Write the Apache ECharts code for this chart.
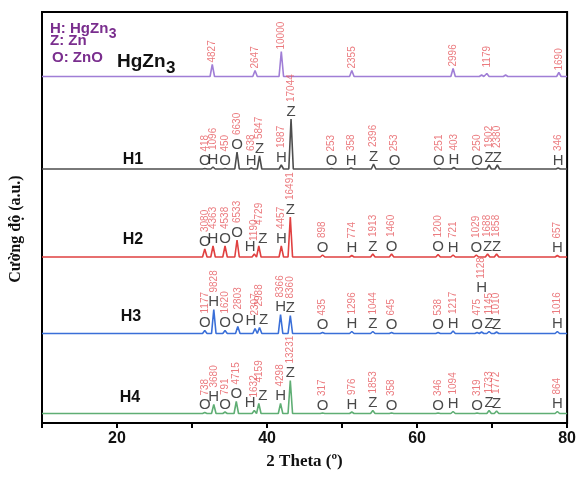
<!DOCTYPE html>
<html><head><meta charset="utf-8">
<script src="https://cdn.jsdelivr.net/npm/echarts@6/dist/echarts.min.js"></script>
<style>html,body{margin:0;padding:0;background:#fff}#c{width:579px;height:477px}</style>
</head><body><div id="c"></div>
<script>
// ---------- data ----------
const xTickLabels = [20, 40, 60, 80];

const hgzn3Pos    = [32.7, 38.4, 41.9, 51.3, 64.8, 68.6, 69.3, 71.8, 78.9];
const hgzn3Height = [12, 6, 25, 6, 8, 1.5, 3, 1.5, 4];
const hgzn3Counts = ['4827', '2647', '10000', '2355', '2996', '', '1179', '', '1690'];

const h1Pos    = [31.7, 32.8, 34.4, 36.0, 37.9, 39.0, 41.9, 43.2, 48.6, 51.2, 54.2, 57.0, 62.9, 64.9, 68.0, 69.6, 70.7, 78.8];
const h1Height = [0.5, 2, 0.5, 17, 1, 13, 4, 50, 0.5, 1, 5, 0.8, 0.8, 1.5, 0.8, 4, 4, 1];
const h1Phase  = ['O','H','O','O','H','Z','H','Z','O','H','Z','O','O','H','O','Z','Z','H'];
const h1Counts = ['418','1096','450','6630','638','5847','1987','17044','253','358','2396','253','251','403','250','1902','2380','346'];

const h2Pos    = [31.7, 32.8, 34.4, 36.0, 38.3, 38.9, 41.9, 43.1, 47.4, 51.3, 54.1, 56.6, 62.8, 64.8, 67.9, 69.4, 70.6, 78.7];
const h2Height = [8, 11, 11, 17, 3, 11, 11, 40, 2, 1.5, 3, 3, 2.5, 2, 2, 3, 3, 1.5];
const h2Phase  = ['O','H','O','O','H','Z','H','Z','O','H','Z','O','O','H','O','Z','Z','H'];
const h2Counts = ['3080','4363','4538','6533','1190','4729','4457','16491','898','774','1913','1460','1200','721','1029','1688','1858','657'];

const h3Pos    = [31.7, 32.9, 34.4, 36.1, 38.4, 39.0, 41.8, 43.1, 47.4, 51.3, 54.1, 56.6, 62.8, 64.8, 68.0, 68.6, 69.6, 70.6, 78.7];
const h3Height = [3, 24, 3, 7, 5, 6, 19, 18, 1, 2, 2, 1, 1, 2.5, 1, 1.5, 2, 1.5, 2];
const h3Phase  = ['O','H','O','O','H','Z','H','Z','O','H','Z','O','O','H','O','H','Z','Z','H'];
const h3Counts = ['1177','9828','1620','2803','2307','2988','8366','8360','435','1296','1044','645','538','1217','475','1128','1145','1010','1016'];

const h4Pos    = [31.7, 32.9, 34.4, 35.9, 38.3, 38.9, 41.8, 43.1, 47.4, 51.3, 54.1, 56.6, 62.8, 64.8, 68.0, 69.6, 70.6, 78.7];
const h4Height = [1, 9, 1.5, 12, 3, 10, 10, 33, 0.5, 1.5, 3, 0.5, 0.5, 2, 0.5, 3, 2.5, 2];
const h4Phase  = ['O','H','O','O','H','Z','H','Z','O','H','Z','O','O','H','O','Z','Z','H'];
const h4Counts = ['738','3680','791','4715','1632','4159','4298','13231','317','976','1853','358','346','1094','319','1733','1772','864'];

// ---------- layout / style ----------
const traces = [
  {name:'HgZn3', pos:hgzn3Pos, h:hgzn3Height, nums:hgzn3Counts, letters:null,   color:'#a07ed6', base:346.5, raised:[]},
  {name:'H1',    pos:h1Pos,    h:h1Height,    nums:h1Counts,    letters:h1Phase, color:'#4d4d4d', base:254,   raised:[]},
  {name:'H2',    pos:h2Pos,    h:h2Height,    nums:h2Counts,    letters:h2Phase, color:'#e04040', base:166,   raised:[]},
  {name:'H3',    pos:h3Pos,    h:h3Height,    nums:h3Counts,    letters:h3Phase, color:'#3a6fd8', base:89.5,  raised:[15]},
  {name:'H4',    pos:h4Pos,    h:h4Height,    nums:h4Counts,    letters:h4Phase, color:'#5fae74', base:9.5,   raised:[]}
];

function profile(t){
  const pts = [[10, t.base], [80, t.base]];
  t.pos.forEach((p, i) => { pts.push([p - 0.3, t.base], [p, t.base + t.h[i]], [p + 0.3, t.base]); });
  pts.sort((a, b) => a[0] - b[0]);
  return pts;
}
function labelItems(t){
  const L = [], N = [], numTop = [];
  const dx = t.pos.map(() => 0);
  for (let i = 0; i < t.pos.length - 1; i++) {
    if (t.pos[i+1] - t.pos[i] < 0.8 && !t.raised.includes(i+1)) { dx[i] -= 4; dx[i+1] += 4; }
  }
  t.pos.forEach((p, i) => {
    if (!t.nums[i]) { numTop.push(0); return; }
    let y = t.base + t.h[i];
    if (t.raised.includes(i)) y = numTop[i-1] + 3;
    let ny = y + 2;
    if (t.letters) {
      L.push({name: t.letters[i], value: [p, y], label: {offset: [dx[i], 0]}});
      ny = y + 17;
    }
    N.push({name: t.nums[i], value: [p, ny], label: {offset: [dx[i], 0]}});
    numTop.push(ny + t.nums[i].length * 5.6);
  });
  return {L, N};
}

const series = [];
traces.forEach(t => {
  series.push({type:'line', name:t.name, data:profile(t), symbol:'none', silent:true,
    lineStyle:{color:t.color, width:1.6}, z:2});
  const {L, N} = labelItems(t);
  if (L.length) series.push({type:'scatter', data:L, symbolSize:0, silent:true, z:5,
    label:{show:true, position:'top', distance:0, formatter:'{b}', color:'#1a1a1a',
      fontFamily:'Liberation Sans, Arial', fontSize:15}});
  series.push({type:'scatter', data:N, symbolSize:0, silent:true, z:5,
    label:{show:true, position:'top', distance:0, formatter:'{b}', rotate:90, align:'left',
      verticalAlign:'middle', color:'#e65a5f', fontFamily:'Liberation Sans, Arial', fontSize:10}});
});

// measure helper for subscripts
const mctx = document.createElement('canvas').getContext('2d');
function tw(text, font){ mctx.font = font; return mctx.measureText(text).width; }

const legFont = 'bold 15px "Liberation Sans"';
const legColor = '#7a2e8e';
const graphics = [];
function withSub(x, y, main, sub, font, subFont, color, subDy){
  graphics.push({type:'text', left:x, top:y, style:{text:main, font:font, fill:color}, silent:true});
  graphics.push({type:'text', left:x + tw(main, font) + 0.5, top:y + subDy, style:{text:sub, font:subFont, fill:color}, silent:true});
}
withSub(50, 21, 'H: HgZn', '3', legFont, 'bold 14px "Liberation Sans"', legColor, 6);
graphics.push({type:'text', left:50, top:33, style:{text:'Z: Zn', font:legFont, fill:legColor}, silent:true});
graphics.push({type:'text', left:52, top:50, style:{text:'O: ZnO', font:legFont, fill:legColor}, silent:true});
withSub(117, 52, 'HgZn', '3', 'bold 19px "Liberation Sans"', 'bold 17px "Liberation Sans"', '#111', 8);

const traceNames = [['H1', 133, 160], ['H2', 133, 240], ['H3', 131, 317], ['H4', 130, 398]];
traceNames.forEach(([n, x, y]) => graphics.push({type:'text', x:x, y:y, silent:true,
  style:{text:n, font:'bold 16px "Liberation Sans"', fill:'#111', textAlign:'center', textVerticalAlign:'middle'}}));
graphics.push({type:'text', x:16, y:229, rotation:Math.PI/2, silent:true,
  style:{text:'Cường độ (a.u.)', font:'bold 16px "Liberation Serif"', fill:'#111', textAlign:'center', textVerticalAlign:'middle'}});

const chart = echarts.init(document.getElementById('c'), null, {renderer:'canvas'});
chart.setOption({
  animation:false,
  backgroundColor:'#fff',
  grid:{left:42, right:11, top:12, bottom:54, show:true, borderColor:'#000', borderWidth:2, backgroundColor:'transparent'},
  xAxis:{type:'value', min:10, max:80, interval:10,
    name:'2 Theta (º)', nameLocation:'middle', nameGap:30,
    nameTextStyle:{fontFamily:'Liberation Serif', fontWeight:'bold', fontSize:17, color:'#111'},
    axisLine:{show:true, lineStyle:{color:'#000', width:2}},
    axisTick:{show:true, length:5, lineStyle:{color:'#000', width:2}},
    axisLabel:{formatter:v => xTickLabels.includes(v) ? String(v) : '', fontFamily:'Liberation Sans', fontWeight:'bold', fontSize:16, color:'#111', margin:8},
    splitLine:{show:false}},
  yAxis:{type:'value', min:0, max:411, show:false},
  graphic:graphics,
  series:series
});
</script></body></html>
